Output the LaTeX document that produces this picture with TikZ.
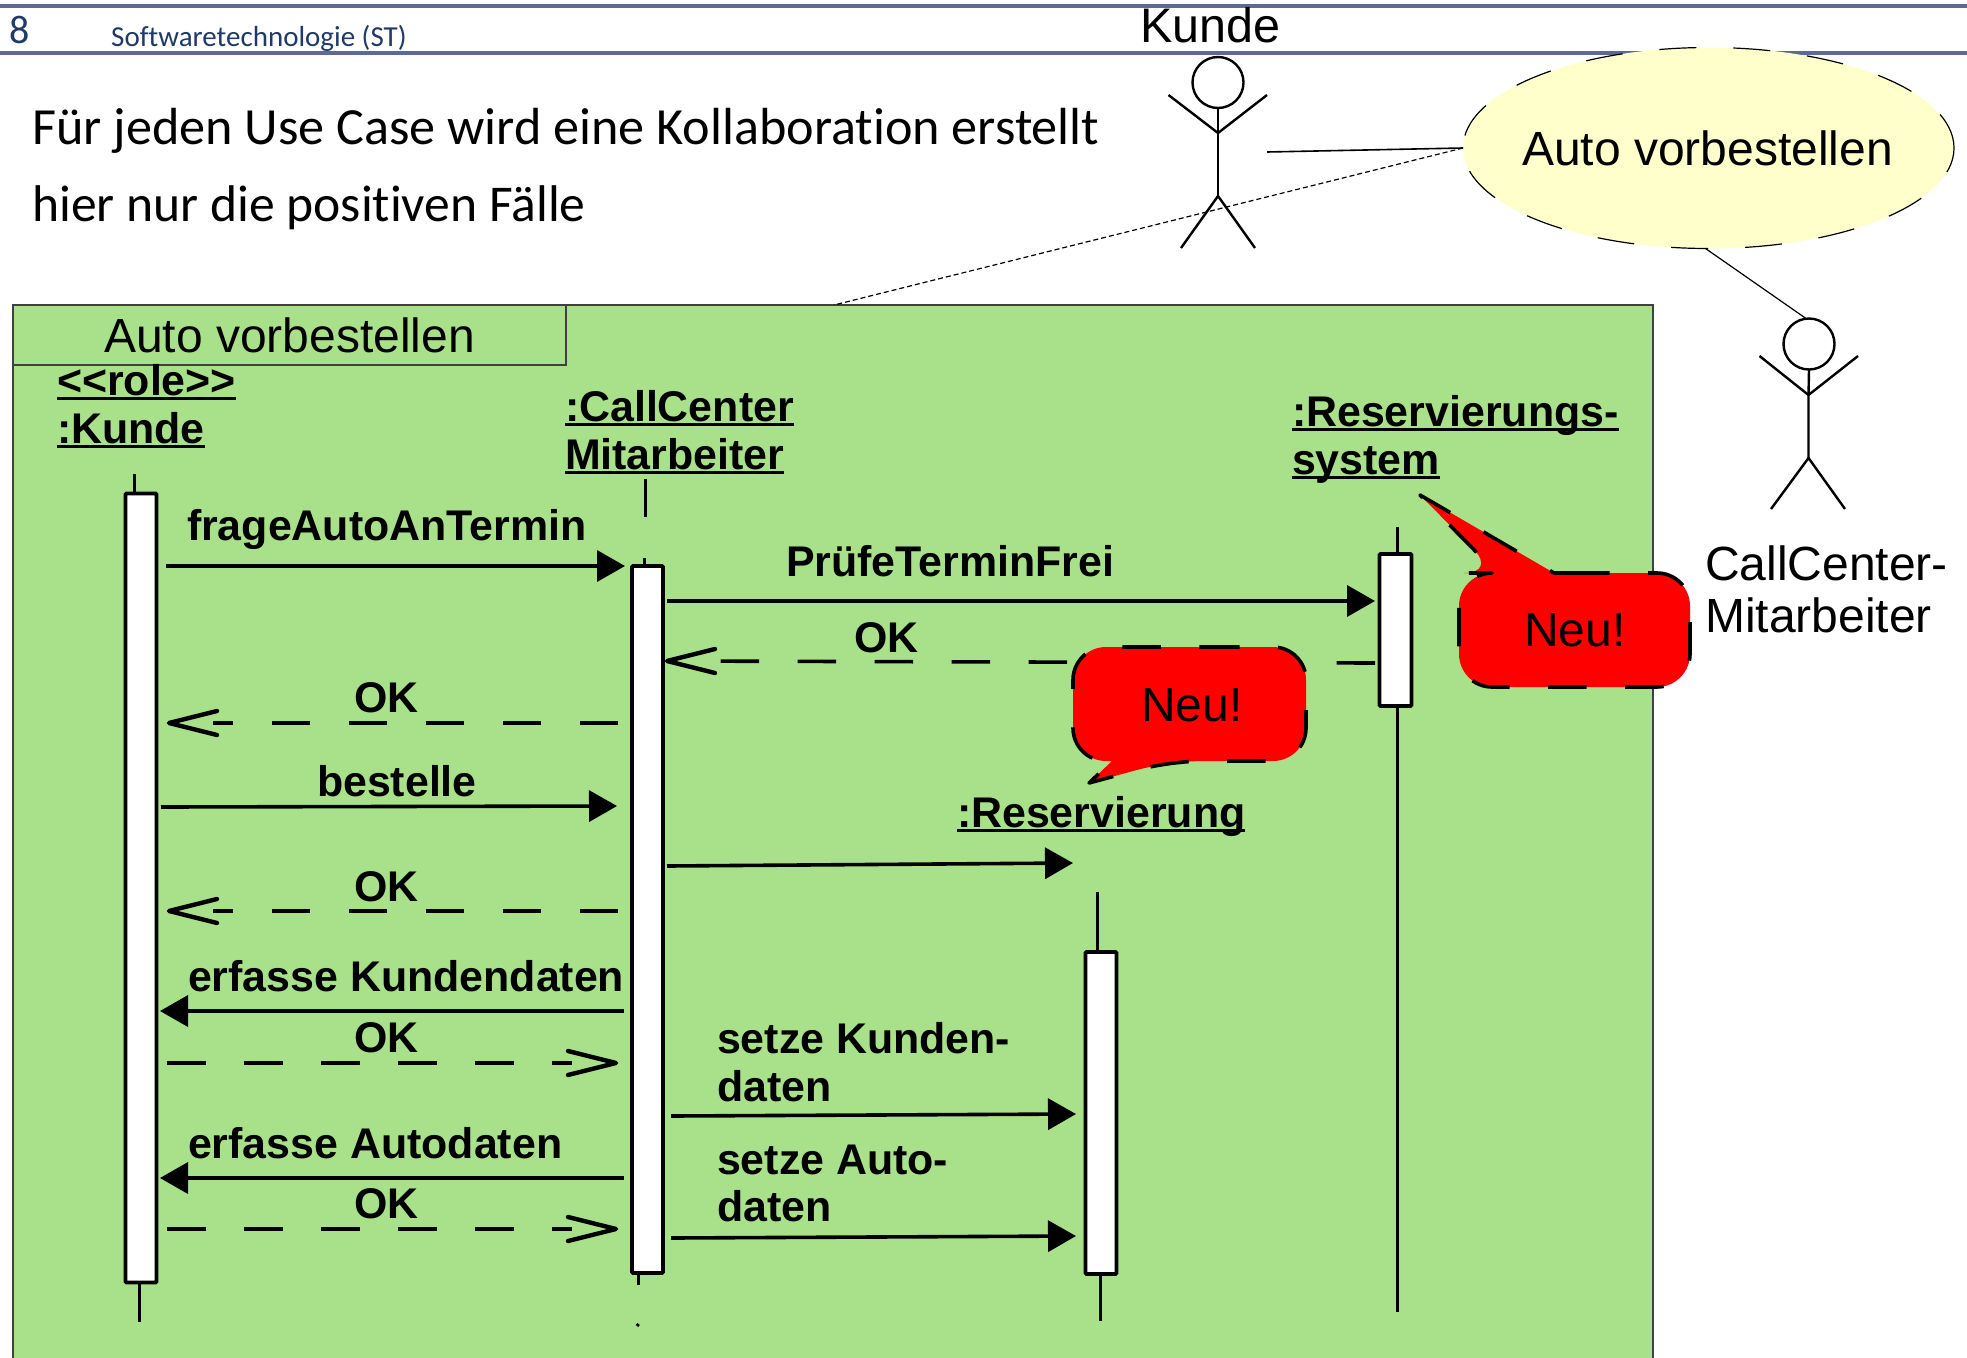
\documentclass[tikz,border=0pt]{standalone}
\usepackage{fontspec}
\setmainfont{Liberation Sans}
\newfontfamily\carl[Ligatures=NoCommon]{Carlito}
\usetikzlibrary{shapes.geometric}
\definecolor{framegreen}{HTML}{A9E18B}
\definecolor{hdrline}{HTML}{5E6A92}
\definecolor{hdrtext}{HTML}{1F3A68}
\definecolor{ucfill}{HTML}{FFFFCC}
\newcommand{\ulbl}[1]{\setbox0\hbox{#1}\rlap{\rule[-4.6pt]{\wd0}{2.6pt}}\box0}
\newcommand{\rethead}[2]{\draw[barb] ([shift={(#2*48,-12)}]#1) -- (#1) -- ([shift={(#2*48,12)}]#1);}
\tikzset{
  x=1pt,y=-1pt,
  lbl/.style={anchor=base west,inner sep=0pt,outer sep=0pt,font=\fontsize{42.9}{48}\selectfont\bfseries},
  plain/.style={anchor=base west,inner sep=0pt,outer sep=0pt,font=\fontsize{48}{54}\selectfont},
  bar/.style={draw=black,fill=white,line width=3.6pt,rectangle,inner sep=0pt,outer sep=0pt,rounded corners=1pt},
  life/.style={draw=black,line width=3pt},
  stick/.style={draw=black,line width=2.4pt},
  msg/.style={draw=black,line width=3.6pt,-{Triangle[length=28pt,width=31pt]}},
  ret/.style={draw=black,line width=3.6pt,dash pattern=on 38.5pt off 38.5pt,shorten >=44pt},
  barb/.style={draw=black,line width=4.4pt,line cap=round,line join=round},
  callout/.style={draw=black,fill=red,line width=3.6pt,dash pattern=on 38.5pt off 38.5pt,line join=round},
  hdr/.style={draw=hdrline,line width=3.6pt},
}
\usetikzlibrary{arrows.meta}
\begin{document}
\begin{tikzpicture}
\useasboundingbox (0,0) rectangle (1967,1357);
% header
\coordinate (h1a) at (0,6); \coordinate (h1b) at (1967,6);
\coordinate (h2a) at (0,53); \coordinate (h2b) at (1967,53);
\draw[hdr] (h1a) -- (h1b);
\draw[hdr] (h2a) -- (h2b);
\node[anchor=base west,inner sep=0pt,text=hdrtext,font=\carl\fontsize{40}{44}\selectfont] (pageno) at (9,43) {8};
\node[anchor=base west,inner sep=0pt,text=hdrtext,font=\carl\fontsize{29}{32}\selectfont] (course) at (111,46) {Softwaretechnologie (ST)};
\node[anchor=base west,inner sep=0pt,font=\carl\fontsize{52.2}{56}\selectfont] (t1) at (32,144) {Für jeden Use Case wird eine Kollaboration erstellt};
\node[anchor=base west,inner sep=0pt,font=\carl\fontsize{51.6}{56}\selectfont] (t2) at (32,221) {hier nur die positiven Fälle};
% frame
\node[anchor=north west,draw=black!75,line width=1.2pt,fill=framegreen,minimum width=1640pt,minimum height=1060pt,inner sep=0pt,outer sep=0pt] (frame) at (13,305) {};
\node[anchor=north west,draw=black!75,line width=1.2pt,minimum width=553pt,minimum height=60pt,inner sep=0pt,outer sep=0pt] (ftab) at (13,305) {};
\node[plain] (ftabt) at (104,352) {Auto vorbestellen};
% use case
\node[ellipse,draw=black,fill=ucfill,line width=1.2pt,dash pattern=on 37pt off 37pt,minimum width=491pt,minimum height=201pt,inner sep=0pt,outer sep=0pt] (uc) at (1708.5,148) {};
\node[plain] (uct) at (1522,165) {Auto vorbestellen};
\coordinate (fr) at (834,305);
\draw[black,line width=1.2pt,dash pattern=on 5pt off 3pt] (uc.west) -- (fr);
% actor Kunde
\node[plain,font=\fontsize{48.5}{54}\selectfont] (kundet) at (1140,42) {Kunde};
\node[circle,draw=black,line width=2.4pt,minimum size=51pt,inner sep=0pt,outer sep=0pt] (ah) at (1218,82.5) {};
\coordinate (an) at (1218,133);\coordinate (af) at (1218,196);
\coordinate (al) at (1168.5,95);\coordinate (ar) at (1267,95);
\coordinate (afl) at (1181,248);\coordinate (afr) at (1255,248);
\draw[stick] (ah.south) -- (an) -- (af);
\draw[stick] (al) -- (an) -- (ar);
\draw[stick] (afl) -- (af) -- (afr);
\coordinate (assk) at (1267,152);
\draw[black,line width=1.6pt] (assk) -- (uc.west);
% actor CC
\node[circle,draw=black,line width=2.4pt,minimum size=51pt,inner sep=0pt,outer sep=0pt] (bh) at (1809,344) {};
\coordinate (bn) at (1808.5,395);\coordinate (bf) at (1808.5,458);
\coordinate (bl) at (1759.5,356);\coordinate (br) at (1858,356);
\coordinate (bfl) at (1771,509);\coordinate (bfr) at (1845,509);
\draw[stick] (bh.south) -- (bn) -- (bf);
\draw[stick] (bl) -- (bn) -- (br);
\draw[stick] (bfl) -- (bf) -- (bfr);
\draw[black,line width=1.2pt] ([xshift=-3pt]uc.south) -- ([xshift=-3pt]bh.north);
\node[plain] (cct1) at (1705,580) {CallCenter-};
\node[plain] (cct2) at (1705,632) {Mitarbeiter};
% headers of lifelines
\node[lbl] (l1) at (57,395) {\ulbl{<{}<role>{}>}};
\node[lbl] (l2) at (57,443) {\ulbl{:Kunde}};
\node[lbl] (l3) at (565,421) {\ulbl{:CallCenter}};
\node[lbl] (l4) at (565,469) {\ulbl{Mitarbeiter}};
\node[lbl] (l5) at (1292,426) {\ulbl{:Reservierungs-}};
\node[lbl] (l6) at (1292,474) {\ulbl{system}};
\node[lbl] (l7) at (957,827) {\ulbl{:Reservierung}};
% lifelines
\coordinate (kT) at (134,474);\coordinate (kB) at (139,1322);
\coordinate (cT) at (645,479);\coordinate (cTe) at (645,517);\coordinate (cT2) at (644,558);
\coordinate (cB) at (638,1285);\coordinate (cD1) at (636.5,1324);\coordinate (cD2) at (639,1326);
\coordinate (rT) at (1097,892);\coordinate (rB) at (1100,1321);
\coordinate (sT) at (1397,527);\coordinate (sB) at (1397,1312);
\node[bar,minimum width=31pt,minimum height=789pt] (kbar) at (141,888) {};
\node[bar,minimum width=31pt,minimum height=707pt] (cbar) at (647.5,919.5) {};
\node[bar,minimum width=31pt,minimum height=322pt] (rbar) at (1101,1113) {};
\node[bar,minimum width=32pt,minimum height=152pt] (sbar) at (1395.5,630) {};
\draw[life] (kT) -- (kT |- kbar.north);
\draw[life] (kB |- kbar.south) -- (kB);
\draw[life] (cT) -- (cTe);
\draw[life] (cT2) -- (cT2 |- cbar.north);
\draw[life] (cB |- cbar.south) -- (cB);
\draw[black,line width=2.6pt] (cD1) -- (cD2);
\draw[life] (rT) -- (rT |- rbar.north);
\draw[life] (rB |- rbar.south) -- (rB);
\draw[life] (sT) -- (sT |- sbar.north);
\draw[life] (sB |- sbar.south) -- (sB);
% messages
\coordinate (m1a) at (166,566);\coordinate (m1b) at (625,566);
\draw[msg] (m1a) -- (m1b);
\node[lbl] (m1t) at (187,540) {frageAutoAnTermin};
\coordinate (m2a) at (667,601);\coordinate (m2b) at (1375,601);
\draw[msg] (m2a) -- (m2b);
\node[lbl] (m2t) at (786,576) {PrüfeTerminFrei};
\coordinate (m3a) at (1375,663);\coordinate (m3b) at (667,661);
\draw[ret] (m3a) -- (m3b); \rethead{m3b}{1}
\node[lbl] (m3t) at (854,652) {OK};
\coordinate (m4a) at (618,723);\coordinate (m4b) at (169,723);
\draw[ret] (m4a) -- (m4b); \rethead{m4b}{1}
\node[lbl] (m4t) at (354,712) {OK};
\coordinate (m5a) at (161,807);\coordinate (m5b) at (617,806);
\draw[msg] (m5a) -- (m5b);
\node[lbl] (m5t) at (317,796) {bestelle};
\coordinate (m6a) at (667,866);\coordinate (m6b) at (1073,863);
\draw[msg] (m6a) -- (m6b);
\coordinate (m7a) at (618,911);\coordinate (m7b) at (169,911);
\draw[ret] (m7a) -- (m7b); \rethead{m7b}{1}
\node[lbl] (m7t) at (354,901) {OK};
\coordinate (m8a) at (624,1011);\coordinate (m8b) at (160,1011);
\draw[msg] (m8a) -- (m8b);
\node[lbl] (m8t) at (188,991) {erfasse Kundendaten};
\coordinate (m9a) at (167,1063);\coordinate (m9b) at (616,1063);
\draw[ret] (m9a) -- (m9b); \rethead{m9b}{-1}
\node[lbl] (m9t) at (354,1052) {OK};
\coordinate (m10a) at (624,1178);\coordinate (m10b) at (160,1178);
\draw[msg] (m10a) -- (m10b);
\node[lbl] (m10t) at (188,1158) {erfasse Autodaten};
\coordinate (m11a) at (167,1229);\coordinate (m11b) at (616,1229);
\draw[ret] (m11a) -- (m11b); \rethead{m11b}{-1}
\node[lbl] (m11t) at (354,1218) {OK};
\coordinate (m12a) at (671,1116);\coordinate (m12b) at (1076,1114);
\draw[msg] (m12a) -- (m12b);
\node[lbl] (m12t) at (717,1053) {setze Kunden-};
\node[lbl] (m12u) at (717,1101) {daten};
\coordinate (m13a) at (671,1238);\coordinate (m13b) at (1076,1236);
\draw[msg] (m13a) -- (m13b);
\node[lbl] (m13t) at (717,1174) {setze Auto-};
\node[lbl] (m13u) at (717,1221) {daten};
% callouts
\draw[callout,rounded corners=33pt] (1571,573) -- (1690,573) -- (1690,687) -- (1459,687) -- (1459,573) -- (1497,573) [sharp corners] -- (1420,495) -- (1554,573) -- cycle;
\node[plain] (neu1) at (1524,646) {Neu!};
\draw[callout,rounded corners=33pt] (1168,647) -- (1306,647) -- (1306,761) -- (1170,761) [sharp corners] -- (1089,783) -- (1112,761) [rounded corners=33pt] -- (1073,761) -- (1073,647) -- cycle;
\node[plain] (neu2) at (1141,721) {Neu!};
\end{tikzpicture}
\end{document}
